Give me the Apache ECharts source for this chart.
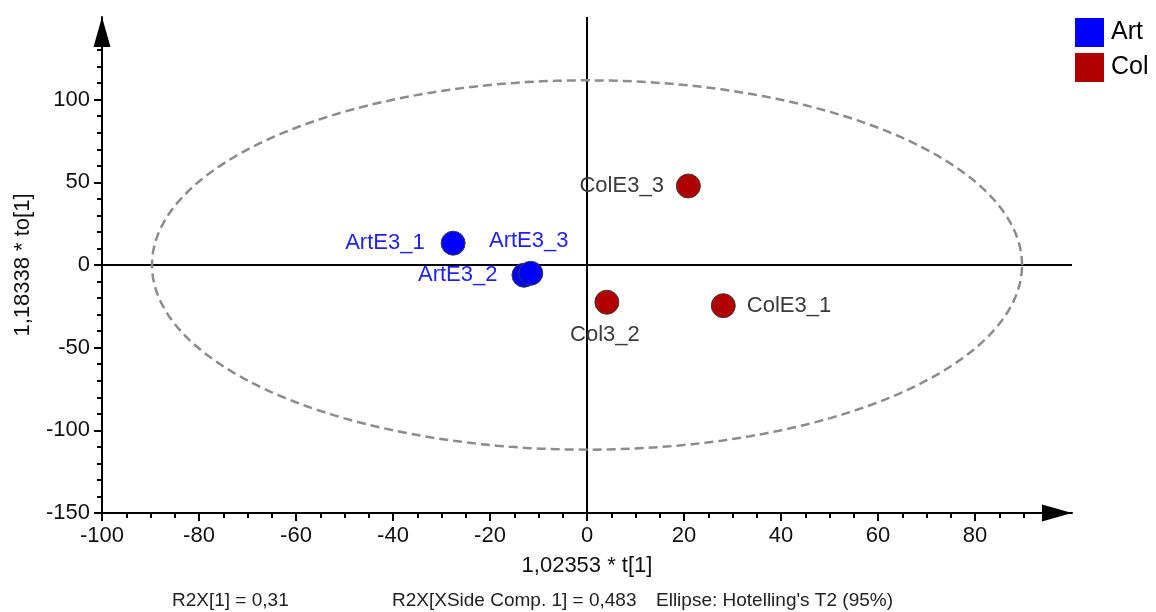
<!DOCTYPE html>
<html>
<head>
<meta charset="utf-8">
<script src="https://cdn.jsdelivr.net/npm/echarts@6/dist/echarts.min.js"></script>
<style>
html,body{margin:0;padding:0;background:#fff;}
#chart{width:1156px;height:612px;}
</style>
</head>
<body>
<div id="chart"></div>
<script>
// ---- data ----
const seriesNames = ['Art', 'Col'];
const artNames = ['ArtE3_1', 'ArtE3_2', 'ArtE3_3'];
const artX = [-27.6, -13.0, -11.6];
const artY = [13.2, -6.2, -5.0];
const colNames = ['ColE3_1', 'Col3_2', 'ColE3_3'];
const colX = [28.1, 4.1, 20.9];
const colY = [-24.6, -22.5, 47.8];
const xLabelValues = [-100, -80, -60, -40, -20, 0, 20, 40, 60, 80];
const yLabelValues = [-150, -100, -50, 0, 50, 100];
const xMinorTicks = [-95,-90,-85,-75,-70,-65,-55,-50,-45,-35,-30,-25,-15,-10,-5,5,10,15,25,30,35,45,50,55,65,70,75,85,90];
const yMinorTicks = [-140,-130,-120,-110,-90,-80,-70,-60,-40,-30,-20,-10,10,20,30,40,60,70,80,90,110,120,130];
const ellipseA = 89.7;   // Hotelling's T2 (95%) semi-axis along t[1]
const ellipseB = 111.7;  // semi-axis along to[1]
const captions = ['R2X[1] = 0,31', 'R2X[XSide Comp. 1] = 0,483', "Ellipse: Hotelling's T2 (95%)"];
const xName = '1,02353 * t[1]';
const yName = '1,18338 * to[1]';

// ---- build ----
const FONT = "'Liberation Sans', Arial, sans-serif";
const ellipsePts = [];
for (let d = 0; d <= 360; d += 2) {
  const r = d * Math.PI / 180;
  ellipsePts.push([ellipseA * Math.cos(r), ellipseB * Math.sin(r)]);
}
const artLabelPos = {
  'ArtE3_1': {position: 'left', distance: 16},
  'ArtE3_2': {position: 'left', distance: 14},
  'ArtE3_3': {position: 'top', distance: 9, offset: [-2, 0]}
};
const colLabelPos = {
  'ColE3_1': {position: 'right', distance: 11},
  'Col3_2': {position: 'bottom', distance: 9, offset: [-2, 0]},
  'ColE3_3': {position: 'left', distance: 12}
};
function pts(names, xs, ys, posMap) {
  return names.map((n, i) => ({name: n, value: [xs[i], ys[i]], label: posMap[n]}));
}

const chart = echarts.init(document.getElementById('chart'), null, {renderer: 'canvas'});
const axisLineCommon = {show: true, onZero: false, lineStyle: {color: '#000', width: 2},
  symbol: ['none', 'triangle'], symbolSize: [17, 30], symbolOffset: [0, -15]};

chart.setOption({
  animation: false,
  textStyle: {fontFamily: FONT},
  grid: {left: 102, right: 84, top: 17, bottom: 99, containLabel: false},
  title: [
    {text: captions[0], left: 172, top: 591, padding: 0, textStyle: {fontSize: 19, fontWeight: 'normal', color: '#222', fontFamily: FONT}},
    {text: captions[1], left: 392, top: 591, padding: 0, textStyle: {fontSize: 19, fontWeight: 'normal', color: '#222', fontFamily: FONT}},
    {text: captions[2], left: 656, top: 591, padding: 0, textStyle: {fontSize: 19, fontWeight: 'normal', color: '#222', fontFamily: FONT}}
  ],
  legend: {
    data: seriesNames, orient: 'vertical', left: 1075, top: 18, padding: 0,
    icon: 'rect', itemWidth: 29, itemHeight: 29, itemGap: 6,
    itemStyle: {borderWidth: 0, opacity: 1},
    textStyle: {fontSize: 25, color: '#000', fontFamily: FONT, padding: [0, 0, 0, 2]}
  },
  xAxis: [{
    type: 'value', min: -100, max: 100, interval: 20, position: 'bottom',
    axisLine: axisLineCommon,
    axisTick: {show: true, customValues: xLabelValues, length: 8, lineStyle: {color: '#000', width: 2}},
    axisLabel: {customValues: xLabelValues, margin: 12, fontSize: 22, color: '#111', fontFamily: FONT},
    splitLine: {show: false},
    name: xName, nameLocation: 'middle', nameGap: 42,
    nameTextStyle: {fontSize: 22, color: '#111', fontFamily: FONT}
  }, {
    type: 'value', min: -100, max: 100, interval: 20, position: 'bottom', offset: 0,
    axisLine: {show: false, onZero: false},
    axisTick: {show: true, customValues: xMinorTicks, length: 5, lineStyle: {color: '#000', width: 2}},
    axisLabel: {show: false},
    splitLine: {show: false}
  }],
  yAxis: [{
    type: 'value', min: -150, max: 150, interval: 50, position: 'left',
    axisLine: axisLineCommon,
    axisTick: {show: true, customValues: yLabelValues, length: 8, lineStyle: {color: '#000', width: 2}},
    axisLabel: {customValues: yLabelValues, margin: 12, fontSize: 22, color: '#111', fontFamily: FONT},
    splitLine: {show: false},
    name: yName, nameLocation: 'middle', nameGap: 68,
    nameTextStyle: {fontSize: 22, color: '#111', fontFamily: FONT}
  }, {
    type: 'value', min: -150, max: 150, interval: 50, position: 'left', offset: 0,
    axisLine: {show: false, onZero: false},
    axisTick: {show: true, customValues: yMinorTicks, length: 5, lineStyle: {color: '#000', width: 2}},
    axisLabel: {show: false},
    splitLine: {show: false}
  }],
  series: [
    {
      type: 'line', name: 'hline', data: [[-100, 0], [100, 0]], symbol: 'none', silent: true,
      lineStyle: {color: '#000', width: 2}, z: 1
    },
    {
      type: 'line', name: 'vline', data: [[0, -150], [0, 150]], symbol: 'none', silent: true,
      lineStyle: {color: '#000', width: 2}, z: 1
    },
    {
      type: 'line', name: 'ellipse', data: ellipsePts, symbol: 'none', silent: true, smooth: false,
      lineStyle: {color: '#8c8c8c', width: 2.5, type: [9, 5]}, z: 2
    },
    {
      type: 'scatter', name: 'Art', data: pts(artNames, artX, artY, artLabelPos),
      symbolSize: 24, z: 5,
      itemStyle: {color: '#0000ff', borderColor: '#3a3a3a', borderWidth: 1, opacity: 1},
      label: {show: true, formatter: '{b}', fontSize: 22, color: '#1f1fff', fontFamily: FONT}
    },
    {
      type: 'scatter', name: 'Col', data: pts(colNames, colX, colY, colLabelPos),
      symbolSize: 24, z: 5,
      itemStyle: {color: '#b00000', borderColor: '#3a3a3a', borderWidth: 1, opacity: 1},
      label: {show: true, formatter: '{b}', fontSize: 22, color: '#3a3a3a', fontFamily: FONT}
    }
  ]
});
</script>
</body>
</html>
